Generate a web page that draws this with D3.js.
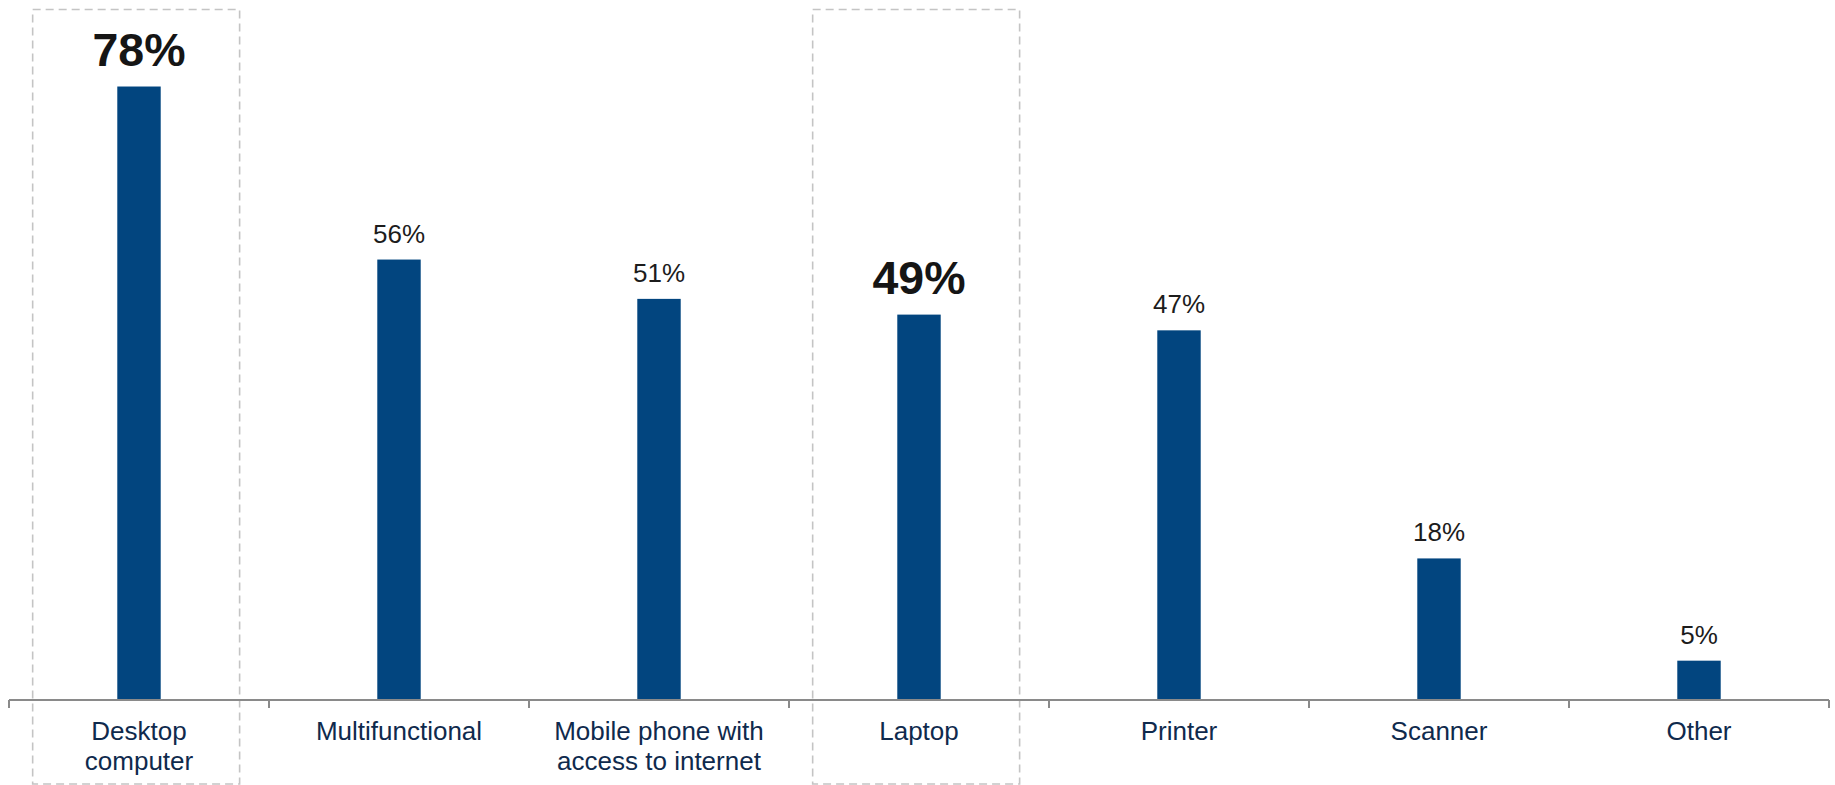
<!DOCTYPE html>
<html>
<head>
<meta charset="utf-8">
<script src="https://cdn.jsdelivr.net/npm/d3@7/dist/d3.min.js"></script>
<style>
  html, body { margin: 0; padding: 0; background: #ffffff; }
  svg { display: block; }
  text { font-family: "Liberation Sans", Arial, Helvetica, sans-serif; }
</style>
</head>
<body>
<svg id="chart" width="1835" height="785"></svg>
<script>
// Devices in use, share of respondents (%)
const categories = [
  ["Desktop", "computer"],
  ["Multifunctional"],
  ["Mobile phone with", "access to internet"],
  ["Laptop"],
  ["Printer"],
  ["Scanner"],
  ["Other"]
];
const values = [78, 56, 51, 49, 47, 18, 5];
// Categories called out with a dashed frame and a large label
const highlighted = [true, false, false, true, false, false, false];

const W = 1835, H = 785;
const margin = { left: 9, right: 6 };
const axisY = 700;

const svg = d3.select("#chart");
const keys = d3.range(categories.length);

const x = d3.scaleBand()
  .domain(keys)
  .range([margin.left, W - margin.right])
  .paddingInner(0)
  .paddingOuter(0);

const y = d3.scaleLinear()
  .domain([0, 89])
  .range([axisY, 0]);

const bw = x.bandwidth();
const barW = bw * 0.167;

// Dashed highlight frames
svg.append("g")
  .selectAll("rect")
  .data(keys.filter(i => highlighted[i]))
  .join("rect")
  .attr("x", i => x(i) + bw * 0.091)
  .attr("y", 9.5)
  .attr("width", bw * 0.796)
  .attr("height", H - 1 - 9.5)
  .attr("fill", "none")
  .attr("stroke", "#c4c4c4")
  .attr("stroke-width", 1.6)
  .attr("stroke-dasharray", "8,5");

// Bars
svg.append("g")
  .selectAll("rect")
  .data(keys)
  .join("rect")
  .attr("x", i => x(i) + bw / 2 - barW / 2)
  .attr("y", i => y(values[i]))
  .attr("width", barW)
  .attr("height", i => axisY - y(values[i]))
  .attr("fill", "#02457f");

// Value labels
svg.append("g")
  .selectAll("text")
  .data(keys)
  .join("text")
  .attr("x", i => x(i) + bw / 2)
  .attr("y", i => y(values[i]) - (highlighted[i] ? 21 : 17))
  .attr("text-anchor", "middle")
  .attr("font-size", i => highlighted[i] ? 46.5 : 26)
  .attr("font-weight", i => highlighted[i] ? "bold" : "normal")
  .attr("fill", i => highlighted[i] ? "#151515" : "#1c1c1c")
  .text(i => values[i] + "%");

// Category axis: baseline with ticks at band boundaries
const axis = svg.append("g");
axis.append("line")
  .attr("x1", x.range()[0])
  .attr("x2", x.range()[1])
  .attr("y1", axisY)
  .attr("y2", axisY)
  .attr("stroke", "#8a8a8a")
  .attr("stroke-width", 2);

const tickXs = keys.map(i => x(i)).concat([x.range()[1]]);
axis.selectAll("line.tick")
  .data(tickXs)
  .join("line")
  .attr("class", "tick")
  .attr("x1", d => d)
  .attr("x2", d => d)
  .attr("y1", axisY)
  .attr("y2", axisY + 8)
  .attr("stroke", "#8a8a8a")
  .attr("stroke-width", 2);

// Category labels (multi-line)
const labels = axis.selectAll("text.cat")
  .data(keys)
  .join("text")
  .attr("class", "cat")
  .attr("text-anchor", "middle")
  .attr("font-size", 26)
  .attr("fill", "#0f2a4d");

labels.selectAll("tspan")
  .data(i => categories[i].map((line, k) => ({ line, k, i })))
  .join("tspan")
  .attr("x", d => x(d.i) + bw / 2)
  .attr("y", d => axisY + 40 + d.k * 30)
  .text(d => d.line);
</script>
</body>
</html>
